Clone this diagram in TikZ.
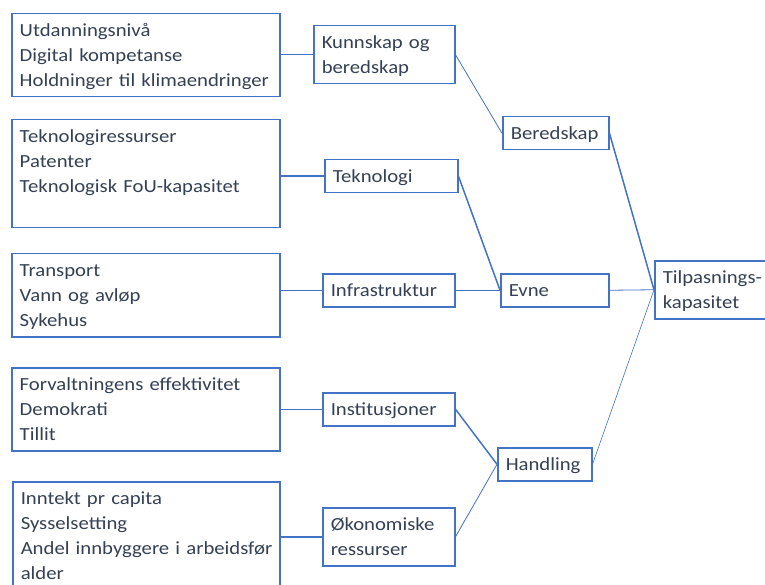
\documentclass[tikz,border=0pt]{standalone}
\usepackage{fontspec}
\setmainfont{Carlito}[FakeStretch=1.12]
\usepackage{tikz}
\usetikzlibrary{calc}
\definecolor{inkBlue}{RGB}{68, 114, 196}
\definecolor{inkText}{RGB}{52, 64, 84}
\newcommand{\boxstrut}{\rule[-5pt]{0pt}{23pt}}
\tikzset{
  box/.style={draw=inkBlue, line width=1.5pt, anchor=north west, inner xsep=8pt, inner ysep=5pt,
    align=left, text=inkText, font=\fontsize{18.5pt}{25pt}\selectfont,
    execute at begin node=\boxstrut, execute at end node=\boxstrut},
  link/.style={draw=inkBlue, line width=0.8pt},
  link strong/.style={draw=inkBlue, line width=1.5pt}
}

\begin{document}
\begin{tikzpicture}[x=1pt, y=-1pt]
  \useasboundingbox (0,0) rectangle (765,585);
  % indicator boxes
  \node[box, text width=252pt] (ind1) at (11,13) {Utdanningsnivå\\Digital kompetanse\\Holdninger til klimaendringer};
  \node[box, text width=252pt] (ind2) at (11,119) {Teknologiressurser\\Patenter\\Teknologisk FoU-kapasitet\\~};
  \node[box, text width=252pt] (ind3) at (11,253) {Transport\\Vann og avløp\\Sykehus};
  \node[box, text width=252pt] (ind4) at (11,367) {Forvaltningens effektivitet\\Demokrati\\Tillit};
  \node[box, text width=251pt] (ind5) at (12,481) {Inntekt pr capita\\Sysselsetting\\\mbox{Andel innbyggere i arbeidsfør}\\alder};
  % dimensions
  \node[box, text width=125pt] (kunn) at (313,25) {Kunnskap og\\beredskap};
  \node[box, text width=117pt] (tekn) at (324,159) {Teknologi};
  \node[box, text width=116pt] (infra) at (322,273) {Infrastruktur};
  \node[box, text width=116pt] (inst) at (322,392) {Institusjoner};
  \node[box, text width=116pt] (okon) at (322,507) {Økonomiske\\ressurser};
  % components
  \node[box, text width=90pt] (bered) at (502,116) {Beredskap};
  \node[box, text width=92pt] (evne) at (500,273) {Evne};
  \node[box, text width=78pt] (handl) at (497,447) {Handling};
  \node[box, text width=114pt] (tilp) at (654,260) {Tilpasnings-\\kapasitet};

  \draw[link] (kunn.west) -- (kunn.west -| ind1.east);
  \draw[link strong] (tekn.west) -- (tekn.west -| ind2.east);
  \draw[link strong] (infra.west) -- (infra.west -| ind3.east);
  \draw[link] (inst.west) -- (inst.west -| ind4.east);
  \draw[link strong] (okon.west) -- (okon.west -| ind5.east);

  \draw[link] (kunn.east) -- (bered.west);
  \draw[link strong] (tekn.east) -- (evne.west);
  \draw[link strong] (infra.east) -- (evne.west);
  \draw[link strong] (inst.east) -- (handl.west);
  \draw[link] (okon.east) -- (handl.west);

  \draw[link strong] (bered.east) -- (tilp.west);
  \draw[link] (evne.east) -- (tilp.west);
  \draw[link, line width=0.6pt] (handl.east) -- (tilp.west);
\end{tikzpicture}
\end{document}
